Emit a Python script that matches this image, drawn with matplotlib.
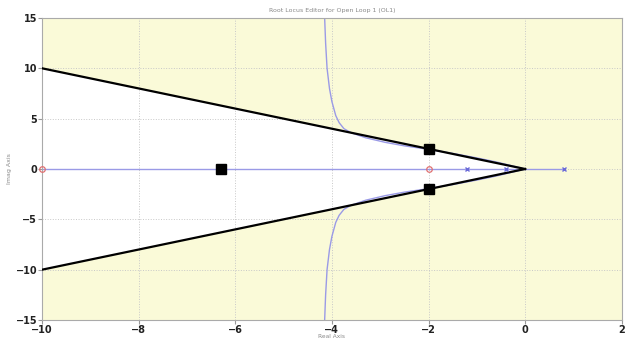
import matplotlib
matplotlib.use("Agg")
import matplotlib.pyplot as plt
import numpy as np

# Open-loop poles and zeros
pole_re = [-1.2, -0.4, 0.8]
zero_re = [-2.0, -10.0]

# Closed-loop pole locations
cl_re = [-6.3, -2.0, -2.0]
cl_im = [0.0, 2.0, -2.0]

# Upper complex branch of the root locus (lower branch is its mirror)
branch_re = [0.0, -0.3, -0.6, -1.0, -1.5, -2.0, -2.5, -2.9, -3.3, -3.6,
             -3.75, -3.85, -3.92, -4.0, -4.05, -4.1, -4.13, -4.15]
branch_im = [0.0, 0.35, 0.7, 1.1, 1.55, 1.95, 2.3, 2.65, 3.1, 3.6,
             4.0, 4.6, 5.3, 6.7, 8.0, 10.0, 12.5, 15.0]

# Damping-ratio boundary (zeta constraint) through these points
cone_re = [-10.0, 0.0, -10.0]
cone_im = [10.0, 0.0, -10.0]

x_ticks = [-10, -8, -6, -4, -2, 0, 2]
y_ticks = [-15, -10, -5, 0, 5, 10, 15]

fig = plt.figure(figsize=(6.28, 3.39), dpi=100)
ax = fig.add_axes([0.067, 0.056, 0.923, 0.891])

xmin, xmax, ymin, ymax = -10, 2, -15, 15
ax.set_xlim(xmin, xmax)
ax.set_ylim(ymin, ymax)

yellow = "#fafad8"
ax.set_facecolor(yellow)
# white admissible region inside the cone
ax.fill(cone_re, cone_im, color="white", zorder=0.5, lw=0)

ax.grid(True, color="#c8c8c8", linestyle=":", linewidth=0.7)
ax.set_axisbelow(True)

locus_c = "#9a9ae6"
ax.plot([-10, 0.8], [0, 0], color=locus_c, lw=1.0, zorder=2)
ax.plot(branch_re, branch_im, color=locus_c, lw=1.0, zorder=2)
ax.plot(branch_re, [-v for v in branch_im], color=locus_c, lw=1.0, zorder=2)

ax.plot(cone_re[:2], cone_im[:2], color="black", lw=1.6, zorder=3)
ax.plot(cone_re[1:], cone_im[1:], color="black", lw=1.6, zorder=3)

ax.plot(pole_re, [0] * len(pole_re), linestyle="none", marker="x",
        color="#6a6ad8", ms=3, mew=1.0, zorder=4)
ax.plot(zero_re, [0] * len(zero_re), linestyle="none", marker="o",
        mfc="none", mec="#e07070", ms=4, mew=0.9, zorder=4, clip_on=False)
ax.plot(cl_re, cl_im, linestyle="none", marker="s", color="black",
        ms=7, zorder=5)

ax.set_xticks(x_ticks)
ax.set_yticks(y_ticks)
ax.tick_params(labelsize=7, length=3, color="#999999", pad=0.5,
               labelcolor="#222222")
for lab in ax.get_xticklabels() + ax.get_yticklabels():
    lab.set_fontweight("bold")
for s in ax.spines.values():
    s.set_color("#aaaaaa")
    s.set_linewidth(0.8)

ax.set_title("Root Locus Editor for Open Loop 1 (OL1)", fontsize=4.5,
             color="#888888", pad=4)
ax.set_xlabel("Real Axis", fontsize=4.2, color="#888888", va="center")
ax.xaxis.set_label_coords(0.5, -0.054)
ax.set_ylabel("Imag Axis", fontsize=4.5, color="#888888", va="center")
ax.yaxis.set_label_coords(-0.057, 0.5)

fig.savefig("out.png", dpi=100, facecolor="white")
